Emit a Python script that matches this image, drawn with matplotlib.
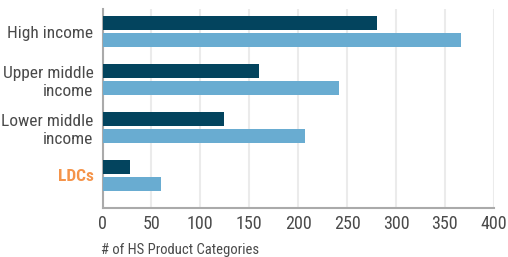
import numpy as np
import matplotlib.pyplot as plt
from matplotlib import font_manager

# pick a condensed sans if one is installed
available = {f.name for f in font_manager.fontManager.ttflist}
for fam in ['Roboto Condensed', 'Open Sans Condensed', 'Barlow Semi Condensed',
            'PT Sans Narrow', 'Source Sans 3', 'Source Sans Pro', 'Lato']:
    if fam in available:
        break
plt.rcParams['font.family'] = [fam, 'DejaVu Sans']

categories = ['High income', 'Upper middle\nincome', 'Lower middle\nincome', 'LDCs']
series_dark = [281, 160, 124, 28]
series_light = [366, 242, 207, 60]
xticks = [0, 50, 100, 150, 200, 250, 300, 350, 400]

dark = '#03445e'
light = '#69acd1'
orange = '#f5944a'

fig = plt.figure(figsize=(5.08, 2.57), dpi=100)
ax = fig.add_axes([0.2018, 0.1907, 0.7702, 0.7743])

y = np.arange(len(categories))
h = 0.29
ax.barh(y - 0.177, series_dark, height=h, color=dark, zorder=3)
ax.barh(y + 0.177, series_light, height=h, color=light, zorder=3)

ax.set_ylim(3.677, -0.469)
ax.set_xlim(0, 400)
ax.set_xticks(xticks)
ax.set_yticks(y)
ax.set_yticklabels(categories, fontsize=12.5, color='#4a4a4a', linespacing=1.25)
ax.tick_params(axis='x', labelsize=13, colors='#4a4a4a', length=0, pad=5)
ax.tick_params(axis='y', length=0, pad=6.5)

lab = ax.get_yticklabels()[-1]
lab.set_color(orange)
lab.set_fontweight('bold')

ax.grid(axis='x', color='#ebebeb', linewidth=1.5, zorder=0)
for s in ['top', 'right']:
    ax.spines[s].set_visible(False)
for s in ['left', 'bottom']:
    ax.spines[s].set_color('#aaaaaa')
    ax.spines[s].set_linewidth(1.5)

fig.text(0.199, 0.012, '# of HS Product Categories', fontsize=10.5, color='#4a4a4a')

fig.savefig('out.png', dpi=100)
